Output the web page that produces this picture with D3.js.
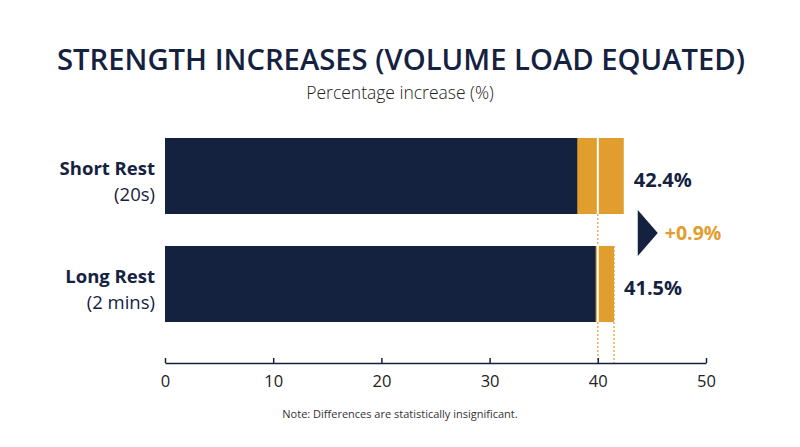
<!DOCTYPE html>
<html>
<head>
<meta charset="utf-8">
<script src="https://cdn.jsdelivr.net/npm/d3@7"></script>
<style>
  html, body { margin: 0; padding: 0; background: #fff; }
  svg { display: block; font-family: "Open Sans", "Noto Sans", sans-serif; }
</style>
</head>
<body>
<div id="chart"></div>
<script>
// data
const categories = ["Short Rest", "Long Rest"];
const subLabels = ["(20s)", "(2 mins)"];
const baseValues = [38.1, 39.8];     // navy part of each bar
const totalValues = [42.4, 41.5];    // full bar length (%)
const valueLabels = ["42.4%", "41.5%"];
const refLines = [40, 41.5];         // dotted guide lines
const refFrom = ["Short Rest", "Long Rest"];
const diffLabel = "+0.9%";
const xTicks = [0, 10, 20, 30, 40, 50];

const navy = "#15223f";
const orange = "#e29d2f";

const width = 800, height = 447;

const svg = d3.select("#chart")
  .append("svg")
  .attr("width", width)
  .attr("height", height);

const x = d3.scaleLinear().domain([0, 50]).range([165, 706]);
const y = d3.scaleBand()
  .domain(categories)
  .range([138, 322])
  .paddingInner(32 / 108)
  .paddingOuter(0);

// title + subtitle
svg.append("text")
  .attr("x", 401).attr("y", 70)
  .attr("text-anchor", "middle")
  .attr("fill", navy)
  .attr("font-size", 28)
  .attr("font-weight", 600)
  .attr("textLength", 688)
  .attr("lengthAdjust", "spacingAndGlyphs")
  .text("STRENGTH INCREASES (VOLUME LOAD EQUATED)");

svg.append("text")
  .attr("x", 400).attr("y", 99)
  .attr("text-anchor", "middle")
  .attr("fill", "#222")
  .attr("font-size", 17.5)
  .attr("font-weight", 300)
  .text("Percentage increase (%)");

// dotted guide lines, behind the bars
svg.selectAll(".ref")
  .data(refLines)
  .enter()
  .append("line")
  .attr("class", "ref")
  .attr("x1", d => x(d)).attr("x2", d => x(d))
  .attr("y1", (d, i) => y(refFrom[i]))
  .attr("y2", 363)
  .attr("stroke", orange)
  .attr("stroke-width", 1.2)
  .attr("stroke-dasharray", "2,2");

// orange full bars
svg.selectAll(".total")
  .data(totalValues)
  .enter()
  .append("rect")
  .attr("class", "total")
  .attr("x", x(0))
  .attr("y", (d, i) => y(categories[i]))
  .attr("width", d => x(d) - x(0))
  .attr("height", y.bandwidth())
  .attr("fill", orange);

// navy base bars
svg.selectAll(".base")
  .data(baseValues)
  .enter()
  .append("rect")
  .attr("class", "base")
  .attr("x", x(0))
  .attr("y", (d, i) => y(categories[i]))
  .attr("width", d => x(d) - x(0))
  .attr("height", y.bandwidth())
  .attr("fill", navy);

// white separator at 40 inside each bar
svg.selectAll(".sep")
  .data(categories)
  .enter()
  .append("line")
  .attr("class", "sep")
  .attr("x1", x(refLines[0])).attr("x2", x(refLines[0]))
  .attr("y1", d => y(d))
  .attr("y2", d => y(d) + y.bandwidth())
  .attr("stroke", "#fff")
  .attr("stroke-width", 2);

// value labels
svg.selectAll(".val")
  .data(totalValues)
  .enter()
  .append("text")
  .attr("class", "val")
  .attr("x", d => x(d) + 10)
  .attr("y", (d, i) => y(categories[i]) + y.bandwidth() / 2 + 11)
  .attr("fill", navy)
  .attr("font-size", 20)
  .attr("font-weight", 700)
  .text((d, i) => valueLabels[i]);

// category labels
const cat = svg.selectAll(".cat")
  .data(categories)
  .enter()
  .append("g")
  .attr("class", "cat")
  .attr("transform", d => `translate(155,${y(d)})`);

cat.append("text")
  .attr("y", 36.5)
  .attr("text-anchor", "end")
  .attr("fill", navy)
  .attr("font-size", 18.5)
  .attr("font-weight", 700)
  .text(d => d);

cat.append("text")
  .attr("y", 62.5)
  .attr("text-anchor", "end")
  .attr("fill", navy)
  .attr("font-size", 18.5)
  .attr("font-weight", 400)
  .text((d, i) => subLabels[i]);

// difference marker
const midY = (y(categories[0]) + y.bandwidth() + y(categories[1])) / 2 + 3;
const tx = x(totalValues[0]) + 14;
svg.append("path")
  .attr("d", `M${tx},${midY - 23}L${tx + 20},${midY}L${tx},${midY + 23}Z`)
  .attr("fill", navy);

svg.append("text")
  .attr("x", tx + 27)
  .attr("y", midY + 7)
  .attr("fill", orange)
  .attr("font-size", 19.5)
  .attr("font-weight", 700)
  .text(diffLabel);

// x axis, ticks pointing up
const axis = svg.append("g")
  .attr("transform", "translate(0,363)")
  .call(d3.axisBottom(x)
    .tickValues(xTicks)
    .tickSize(-5)
    .tickSizeOuter(0)
    .tickPadding(12));

axis.select(".domain").attr("stroke", navy).attr("stroke-width", 1.5);
axis.selectAll(".tick line").attr("stroke", navy).attr("stroke-width", 1.5);
axis.selectAll(".tick text")
  .attr("fill", "#222")
  .attr("font-size", 16.5)
  .attr("font-family", "\"Open Sans\", sans-serif");

// footnote
svg.append("text")
  .attr("x", 400).attr("y", 418)
  .attr("text-anchor", "middle")
  .attr("fill", "#333")
  .attr("font-size", 11)
  .text("Note: Differences are statistically insignificant.");
</script>
</body>
</html>
